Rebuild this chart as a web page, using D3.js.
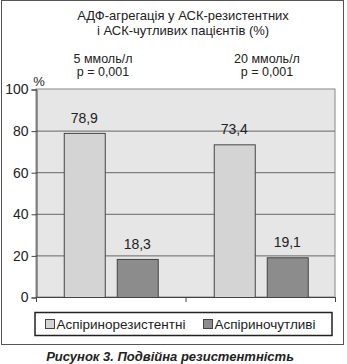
<!DOCTYPE html>
<html>
<head>
<meta charset="utf-8">
<script src="https://cdn.jsdelivr.net/npm/d3@7"></script>
<style>
  body { margin: 0; background: #fff; }
  text { font-family: "Liberation Sans", Arial, sans-serif; fill: #222; }
</style>
</head>
<body>
<script>
const groups = ["5 ммоль/л", "20 ммоль/л"];
const pLabels = ["p = 0,001", "p = 0,001"];
const series = ["Аспіринорезистентні", "Аспіриночутливі"];
const resistant = [78.9, 73.4];
const sensitive = [18.3, 19.1];
const valueLabels = [["78,9", "18,3"], ["73,4", "19,1"]];
const yTicks = [0, 20, 40, 60, 80, 100];
const titleLines = ["АДФ-агрегація у АСК-резистентних", "і АСК-чутливих пацієнтів (%)"];
const caption = "Рисунок 3. Подвійна резистентність";

const w = 347, h = 364;
const colors = ["#d4d4d4", "#8c8c8c"];

const svg = d3.select("body").append("svg")
  .attr("width", w).attr("height", h);

// outer frame
svg.append("rect")
  .attr("x", 1.5).attr("y", 0.5).attr("width", 342).attr("height", 344)
  .attr("fill", "none").attr("stroke", "#555").attr("stroke-width", 1);

const x0 = d3.scaleBand().domain(groups).range([36, 335]);
const y = d3.scaleLinear().domain([0, 100]).range([297, 89]);

// plot background
svg.append("rect")
  .attr("x", 36).attr("y", y(100))
  .attr("width", 335 - 36).attr("height", y(0) - y(100))
  .attr("fill", "#e6e6e6").attr("stroke", "#888");

// grid lines
svg.selectAll(".grid").data(yTicks.filter(d => d > 0 && d < 100)).enter()
  .append("line")
  .attr("x1", 36).attr("x2", 335)
  .attr("y1", d => y(d) + 0.5).attr("y2", d => y(d) + 0.5)
  .attr("stroke", "#666");

// y axis
const yAxis = d3.axisLeft(y).tickValues(yTicks).tickSize(5).tickPadding(3)
  .tickFormat(d3.format("d"));
svg.append("g")
  .attr("transform", "translate(36.5,0.5)")
  .call(yAxis)
  .call(g => g.select(".domain").attr("stroke", "#444"))
  .call(g => g.selectAll(".tick line").attr("stroke", "#444"))
  .call(g => g.selectAll("text").attr("font-size", 14)
    .attr("font-family", "Liberation Sans, Arial, sans-serif").attr("fill", "#222"));

// x axis (ticks only at boundaries)
const xAxisLine = svg.append("g");
xAxisLine.append("line")
  .attr("x1", 36).attr("x2", 335).attr("y1", y(0) + 0.5).attr("y2", y(0) + 0.5)
  .attr("stroke", "#444");
[36, x0(groups[1]), 335].forEach(xx => {
  xAxisLine.append("line")
    .attr("x1", xx + 0.5).attr("x2", xx + 0.5)
    .attr("y1", y(0)).attr("y2", y(0) + 5).attr("stroke", "#444");
});

// bars
const barW = 41, gap = 12;
const data = groups.map((g, i) => ({ g, vals: [resistant[i], sensitive[i]], labels: valueLabels[i] }));
data.forEach((d, gi) => {
  const cx = x0(d.g) + x0.bandwidth() / 2 + (gi === 0 ? 0 : 0.5);
  d.vals.forEach((v, si) => {
    const bx = cx - gap / 2 - barW + si * (barW + gap);
    svg.append("rect")
      .attr("x", bx + 0.5).attr("y", y(v) + 0.5)
      .attr("width", barW).attr("height", y(0) - y(v))
      .attr("fill", colors[si]).attr("stroke", "#444");
    svg.append("text")
      .attr("x", bx + barW / 2).attr("y", y(v) - 10)
      .attr("text-anchor", "middle").attr("font-size", 14)
      .text(d.labels[si]);
  });
});

// title
svg.selectAll(".title").data(titleLines).enter().append("text")
  .attr("x", 183).attr("y", (d, i) => 20 + i * 15)
  .attr("text-anchor", "middle").attr("font-size", 13)
  .text(d => d);

// group labels above plot
const glX = [103, 267];
groups.forEach((g, i) => {
  svg.append("text").attr("x", glX[i]).attr("y", 63)
    .attr("text-anchor", "middle").attr("font-size", 12.5).text(g);
  svg.append("text").attr("x", glX[i]).attr("y", 76)
    .attr("text-anchor", "middle").attr("font-size", 12.5).text(pLabels[i]);
});

svg.append("text").attr("x", 39).attr("y", 86)
  .attr("text-anchor", "middle").attr("font-size", 13).text("%");

// legend
svg.append("rect")
  .attr("x", 35).attr("y", 312.5).attr("width", 297).attr("height", 23)
  .attr("fill", "#fff").attr("stroke", "#222").attr("stroke-width", 1.5);
const legX = [45.5, 203.5];
series.forEach((s, i) => {
  svg.append("rect")
    .attr("x", legX[i]).attr("y", 319.5).attr("width", 9).attr("height", 9)
    .attr("fill", colors[i]).attr("stroke", "#444");
  svg.append("text").attr("x", legX[i] + 11).attr("y", 329)
    .attr("font-size", 13.5).text(s);
});

// caption
svg.append("text").attr("x", 170).attr("y", 361)
  .attr("text-anchor", "middle").attr("font-size", 13)
  .attr("font-weight", "bold").attr("font-style", "italic")
  .text(caption);
</script>
</body>
</html>
